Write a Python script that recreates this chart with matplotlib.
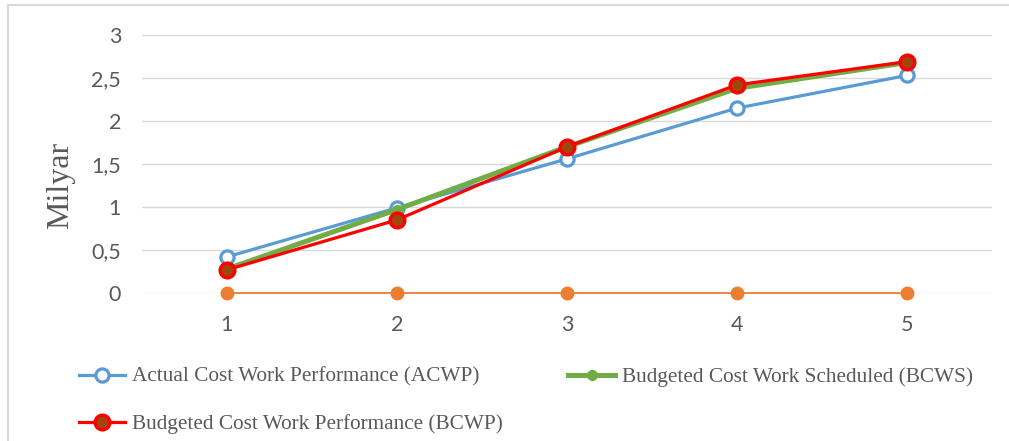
import matplotlib.pyplot as plt
from matplotlib.lines import Line2D

periods = [1, 2, 3, 4, 5]
acwp = [0.42, 0.99, 1.56, 2.15, 2.53]
bcws = [0.28, 0.97, 1.70, 2.38, 2.68]
bcwp = [0.27, 0.85, 1.70, 2.42, 2.69]
zero_line = [0, 0, 0, 0, 0]
y_ticks = [0, 0.5, 1, 1.5, 2, 2.5, 3]
y_labels = ['0', '0,5', '1', '1,5', '2', '2,5', '3']

fig = plt.figure(figsize=(10.09, 4.41), dpi=100)
ax = fig.add_axes([0.1407, 0.3356, 0.8424, 0.585])

ax.plot(periods, zero_line, color='#ED7D31', linewidth=1.3, marker='o',
        markersize=9, markerfacecolor='#ED7D31', markeredgecolor='#ED7D31',
        zorder=3, clip_on=False)
l1, = ax.plot(periods, acwp, color='#5B9BD5', linewidth=2.3, marker='o', markersize=9.5,
              markerfacecolor='white', markeredgecolor='#5B9BD5', markeredgewidth=2.3,
              label='Actual Cost Work Performance (ACWP)', zorder=4)
l2, = ax.plot(periods, bcws, color='#70AD47', linewidth=3.6, marker='o', markersize=7,
              markerfacecolor='#70AD47', markeredgecolor='#70AD47',
              label='Budgeted Cost Work Scheduled (BCWS)', zorder=5)
l3, = ax.plot(periods, bcwp, color='#FF0000', linewidth=2.3, marker='o', markersize=10.5,
              markerfacecolor='#9E480E', markeredgecolor='#FF0000', markeredgewidth=2.5,
              label='Budgeted Cost Work Performance (BCWP)', zorder=6)

ax.set_xlim(0.5, 5.5)
ax.set_ylim(0, 3)
ax.set_yticks(y_ticks)
ax.set_yticklabels(y_labels)
ax.set_xticks(periods)
ax.grid(axis='y', color='#D9D9D9', linewidth=1.0)
ax.set_axisbelow(True)
for s in ax.spines.values():
    s.set_visible(False)
ax.tick_params(length=0, labelsize=15.5, colors='#595959')
ax.tick_params(axis='x', pad=16)
ax.tick_params(axis='y', pad=15)
for t in ax.get_xticklabels() + ax.get_yticklabels():
    t.set_fontfamily('Lato')

fig.text(61 / 1009, 1 - 185 / 441, 'Milyar', rotation=90, ha='center', va='center',
         fontsize=23, family='Liberation Serif', color='#595959')

fig.legend(handles=[l1, l3, l2], loc='upper left', bbox_to_anchor=(0.059, 0.211),
           ncol=2, frameon=False, handlelength=2.2, columnspacing=3.1,
           labelspacing=1.28, handletextpad=0.3,
           prop={'family': 'Liberation Serif', 'size': 15.3}, labelcolor='#595959')

# outer chart border (top and left visible)
fig.add_artist(Line2D([0.008, 1.0], [0.989, 0.989], color='#D9D9D9', linewidth=1.5,
                      transform=fig.transFigure))
fig.add_artist(Line2D([0.008, 0.008], [0.0, 0.989], color='#D9D9D9', linewidth=1.5,
                      transform=fig.transFigure))

fig.savefig('out.png', dpi=100)
